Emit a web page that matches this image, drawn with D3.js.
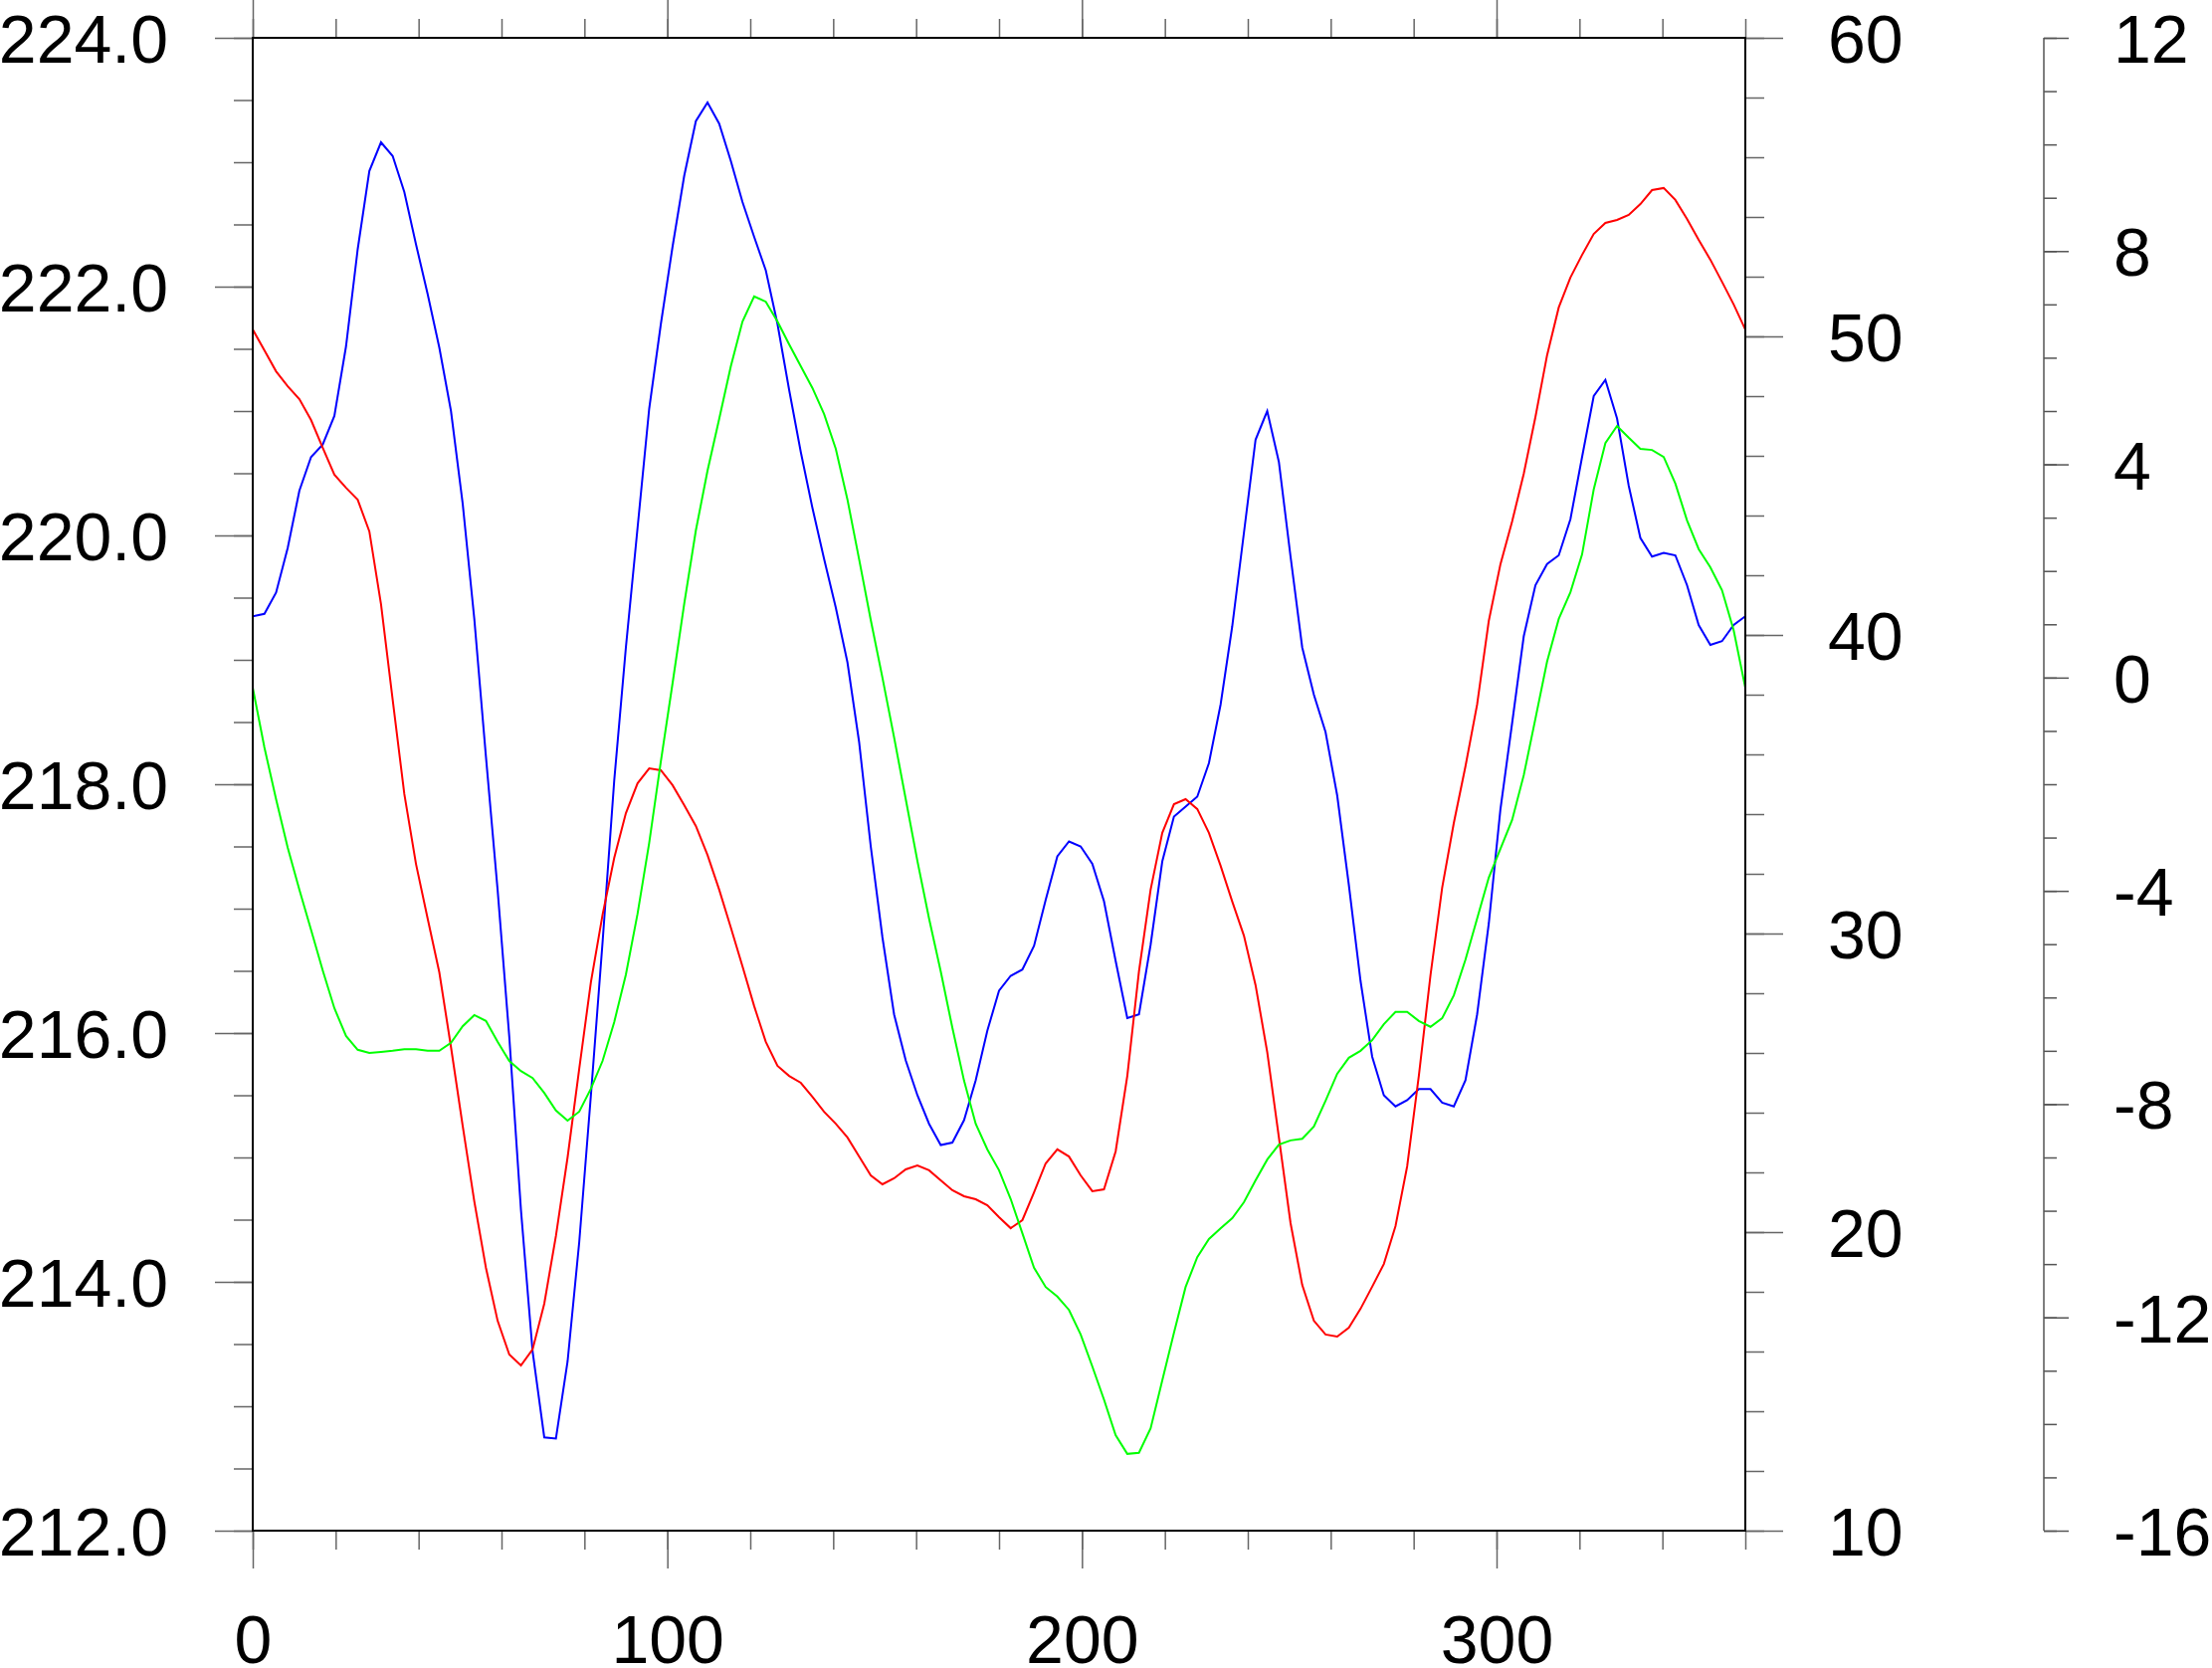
<!DOCTYPE html>
<html>
<head>
<meta charset="utf-8">
<script src="https://cdn.jsdelivr.net/npm/d3@7"></script>
<style>
  body { margin: 0; background: #fff; }
  text { font-family: "Liberation Sans", Arial, Helvetica, sans-serif; }
</style>
</head>
<body>
<div class="xy3Chart"></div>
<script>

// x positions: 128 points round the circle (last one repeats the first)
var lon = d3.range(129).map(function (i) { return i * 2.8125; });

// blue line, left axis
var blueVals = [219.35,219.37,219.54,219.90,220.36,220.63,220.73,220.96,221.52,222.30,
  222.93,223.16,223.05,222.76,222.34,221.94,221.51,221.00,220.26,219.33,
  218.22,217.15,215.97,214.58,213.44,212.75,212.74,213.36,214.32,215.50,
  216.73,218.03,219.10,220.06,221.02,221.70,222.32,222.89,223.33,223.48,
  223.31,223.01,222.68,222.40,222.13,221.70,221.17,220.67,220.22,219.81,
  219.42,218.98,218.34,217.50,216.77,216.15,215.78,215.50,215.27,215.10,
  215.12,215.30,215.62,216.02,216.34,216.46,216.51,216.70,217.07,217.42,
  217.54,217.50,217.36,217.06,216.58,216.12,216.15,216.71,217.38,217.74,
  217.82,217.90,218.17,218.64,219.27,220.02,220.77,221.00,220.59,219.83,
  219.10,218.72,218.42,217.91,217.19,216.42,215.81,215.50,215.41,215.46,
  215.55,215.55,215.44,215.41,215.62,216.15,216.88,217.80,218.49,219.19,
  219.60,219.77,219.84,220.13,220.63,221.12,221.25,220.94,220.40,219.98,
  219.83,219.86,219.84,219.60,219.28,219.12,219.15,219.28,219.35];

// red line, right axis
var redVals = [50.23,49.53,48.83,48.33,47.90,47.20,46.27,45.37,44.93,44.53,
  43.47,41.03,37.83,34.67,32.33,30.50,28.70,26.20,23.57,21.03,
  18.80,17.03,15.90,15.53,16.07,17.60,19.87,22.50,25.47,28.37,
  30.63,32.53,34.03,35.03,35.53,35.47,34.97,34.30,33.60,32.63,
  31.47,30.20,28.90,27.57,26.37,25.57,25.23,25.00,24.53,24.03,
  23.63,23.17,22.53,21.90,21.60,21.80,22.10,22.23,22.07,21.73,
  21.40,21.20,21.10,20.90,20.50,20.13,20.40,21.33,22.30,22.77,
  22.53,21.90,21.37,21.43,22.70,25.23,28.73,31.47,33.37,34.33,
  34.50,34.17,33.37,32.27,31.07,29.93,28.27,26.03,23.17,20.30,
  18.23,17.03,16.57,16.50,16.80,17.43,18.17,18.93,20.20,22.20,
  25.23,28.60,31.53,33.70,35.60,37.67,40.47,42.37,43.80,45.40,
  47.30,49.37,50.97,51.97,52.73,53.43,53.80,53.90,54.07,54.43,
  54.90,54.97,54.57,53.93,53.23,52.57,51.83,51.07,50.23];

// green line, third axis
var greenVals = [-0.19,-1.31,-2.28,-3.19,-3.98,-4.73,-5.49,-6.20,-6.72,-6.98,
  -7.04,-7.02,-7.00,-6.97,-6.97,-7.00,-7.00,-6.85,-6.54,-6.33,
  -6.44,-6.83,-7.19,-7.38,-7.51,-7.79,-8.12,-8.31,-8.14,-7.71,
  -7.19,-6.46,-5.57,-4.43,-3.10,-1.57,-0.11,1.38,2.76,3.88,
  4.85,5.84,6.68,7.15,7.05,6.68,6.25,5.84,5.43,4.94,
  4.29,3.34,2.22,1.08,0.00,-1.12,-2.28,-3.44,-4.52,-5.51,
  -6.57,-7.56,-8.37,-8.85,-9.24,-9.78,-10.42,-11.07,-11.43,-11.61,
  -11.86,-12.32,-12.92,-13.54,-14.21,-14.56,-14.54,-14.08,-13.18,-12.29,
  -11.43,-10.87,-10.53,-10.33,-10.14,-9.84,-9.43,-9.04,-8.76,-8.68,
  -8.65,-8.42,-7.94,-7.43,-7.13,-7.00,-6.80,-6.50,-6.27,-6.27,
  -6.44,-6.55,-6.39,-5.96,-5.29,-4.52,-3.75,-3.21,-2.67,-1.83,
  -0.77,0.30,1.10,1.60,2.31,3.53,4.40,4.72,4.50,4.29,
  4.27,4.14,3.64,2.95,2.41,2.07,1.64,0.89,-0.19];

// tick labels
var xTicks = [0, 100, 200, 300];
var leftTicks = [212, 214, 216, 218, 220, 222, 224];
var rightTicks = [10, 20, 30, 40, 50, 60];
var thirdTicks = [-16, -12, -8, -4, 0, 4, 8, 12];

// set the dimensions of the page and the plot box
// (no "top" as a name: window.top is read only)
var W = 2223, H = 1676;
var plotLeft = 254, plotTop = 38, size = 1500;
var fontSize = 68;
var tickColor = "#666";

// plain hyphen for negative labels, like the original
var plainInt = function (d) { return String(d); };

var svg = d3.select(".xy3Chart")
  .append("svg")
    .attr("width", W)
    .attr("height", H);

svg.append("rect")
  .attr("width", W).attr("height", H)
  .attr("fill", "#fff");

var x = d3.scaleLinear().domain([0, 360]).range([plotLeft, plotLeft + size]);
var yL = d3.scaleLinear().domain([212, 224]).range([plotTop + size, plotTop]);
var yR = d3.scaleLinear().domain([10, 60]).range([plotTop + size, plotTop]);
var y3 = d3.scaleLinear().domain([-16, 12]).range([plotTop + size, plotTop]);

function styleAxis(g, color) {
  g.select(".domain").remove();
  g.selectAll(".tick line")
    .attr("stroke", color)
    .attr("stroke-width", 1.5);
  g.selectAll(".tick text")
    .attr("fill", "#000")
    .attr("font-size", fontSize + "px")
    .attr("font-family", "Liberation Sans, Arial, sans-serif");
}

function addAxis(gen, transform, color) {
  var g = svg.append("g")
    .attr("transform", transform)
    .call(gen);
  styleAxis(g, color);
  return g;
}

var bottomY = plotTop + size;
var rightX = plotLeft + size;

// bottom x axis: minor ticks, then majors with labels
addAxis(d3.axisBottom(x).tickValues(d3.range(0, 361, 20)).tickSize(19).tickFormat(""),
  "translate(0," + bottomY + ")", tickColor);
addAxis(d3.axisBottom(x).tickValues(xTicks).tickSize(38).tickPadding(47)
  .tickFormat(plainInt), "translate(0," + bottomY + ")", tickColor);

// top x axis (no labels)
addAxis(d3.axisTop(x).tickValues(d3.range(0, 361, 20)).tickSize(19).tickFormat(""),
  "translate(0," + plotTop + ")", tickColor);
addAxis(d3.axisTop(x).tickValues(xTicks).tickSize(38).tickFormat(""),
  "translate(0," + plotTop + ")", tickColor);

// left axis
addAxis(d3.axisLeft(yL).tickValues(d3.range(212, 224.01, 0.5)).tickSize(19).tickFormat(""),
  "translate(" + plotLeft + ",0)", tickColor);
addAxis(d3.axisLeft(yL).tickValues(leftTicks).tickSize(38).tickPadding(47)
  .tickFormat(d3.format(".1f")), "translate(" + plotLeft + ",0)", tickColor)
  .selectAll(".tick text").attr("dy", "0.36em");

// right axis
addAxis(d3.axisRight(yR).tickValues(d3.range(10, 60.01, 2)).tickSize(19).tickFormat(""),
  "translate(" + rightX + ",0)", tickColor);
addAxis(d3.axisRight(yR).tickValues(rightTicks).tickSize(38).tickPadding(45)
  .tickFormat(plainInt), "translate(" + rightX + ",0)", tickColor)
  .selectAll(".tick text").attr("dy", "0.36em");

// third axis, further right
var x3 = 2054;
addAxis(d3.axisRight(y3).tickValues(d3.range(-16, 12.01, 1)).tickSize(13).tickFormat(""),
  "translate(" + x3 + ",0)", "#555");
addAxis(d3.axisRight(y3).tickValues(thirdTicks).tickSize(25).tickPadding(45)
  .tickFormat(plainInt), "translate(" + x3 + ",0)", "#555")
  .selectAll(".tick text").attr("dy", "0.36em");

svg.append("line")
  .attr("x1", x3).attr("x2", x3)
  .attr("y1", plotTop).attr("y2", bottomY)
  .attr("stroke", "#555")
  .attr("stroke-width", 1.5);

// the curves
function addLine(vals, yScale, color) {
  var line = d3.line()
    .x(function (d, i) { return x(lon[i]); })
    .y(function (d) { return yScale(d); });
  svg.append("path")
    .datum(vals)
    .attr("d", line)
    .attr("fill", "none")
    .attr("stroke", color)
    .attr("stroke-width", 2)
    .attr("stroke-linejoin", "miter");
}

addLine(blueVals, yL, "#0000ff");
addLine(redVals, yR, "#ff0000");
addLine(greenVals, y3, "#00ff00");

// plot frame on top
svg.append("rect")
  .attr("x", plotLeft).attr("y", plotTop)
  .attr("width", size).attr("height", size)
  .attr("fill", "none")
  .attr("stroke", "#000")
  .attr("stroke-width", 2);

</script>
</body>
</html>
